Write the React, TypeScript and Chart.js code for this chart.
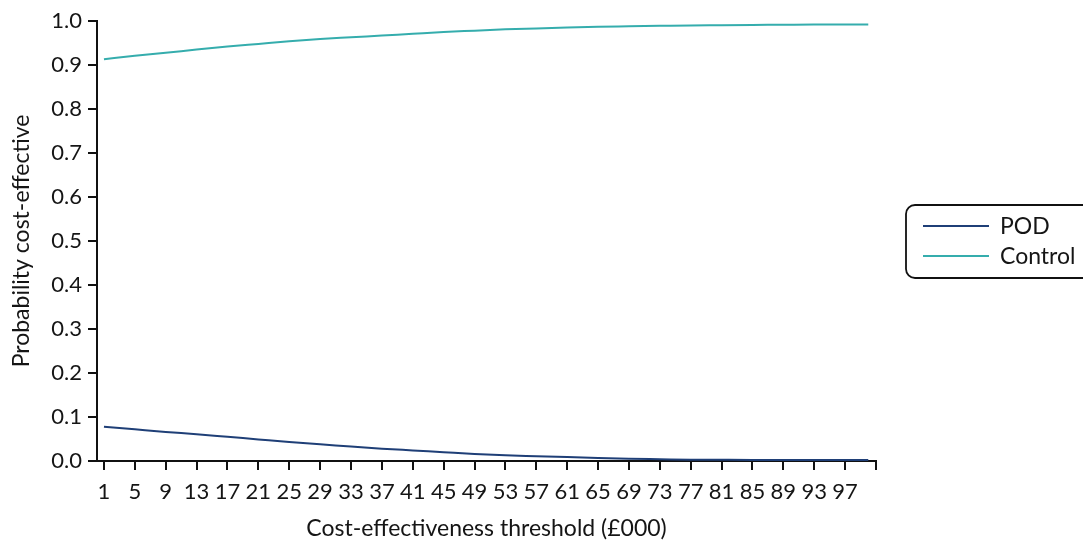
import React, { useEffect, useRef } from 'react';
import { Chart, registerables } from 'chart.js';

Chart.register(...registerables);

const thresholds = [1, 5, 9, 13, 17, 21, 25, 29, 33, 37, 41, 45, 49, 53, 57, 61, 65, 69, 73, 77, 81, 85, 89, 93, 97, 100];
const podValues = [0.078, 0.072, 0.066, 0.061, 0.055, 0.049, 0.043, 0.038, 0.033, 0.028, 0.024, 0.020, 0.016, 0.013, 0.011, 0.009, 0.007, 0.005, 0.004, 0.003, 0.0027, 0.0025, 0.0025, 0.0025, 0.0025, 0.0025];
const controlValues = [0.913, 0.921, 0.928, 0.935, 0.942, 0.948, 0.954, 0.959, 0.963, 0.967, 0.971, 0.975, 0.978, 0.981, 0.983, 0.985, 0.987, 0.988, 0.989, 0.990, 0.9905, 0.991, 0.9915, 0.992, 0.992, 0.992];
const xTickValues = [1, 5, 9, 13, 17, 21, 25, 29, 33, 37, 41, 45, 49, 53, 57, 61, 65, 69, 73, 77, 81, 85, 89, 93, 97, 101];
const xTickLabels = ['1', '5', '9', '13', '17', '21', '25', '29', '33', '37', '41', '45', '49', '53', '57', '61', '65', '69', '73', '77', '81', '85', '89', '93', '97', ''];
const seriesLabels = ['POD', 'Control'];
const seriesColors = ['#1f3f77', '#35adad'];
const xTitle = 'Cost-effectiveness threshold (£000)';
const yTitle = 'Probability cost-effective';

const FONT = 'Lato';
const TEXT = '#151515';

const boxLegend = {
  id: 'boxLegend',
  afterDraw(chart: any) {
    const ctx = chart.ctx as CanvasRenderingContext2D;
    const area = chart.chartArea;
    const cy = (area.top + area.bottom) / 2;
    const x = area.right + 30;
    const y = cy - 36;
    ctx.save();
    ctx.strokeStyle = '#111';
    ctx.lineWidth = 1.8;
    ctx.beginPath();
    (ctx as any).roundRect(x, y, 210, 73, 9);
    ctx.stroke();
    chart.data.datasets.forEach((ds: any, i: number) => {
      const ly = cy - 15 + i * 30;
      ctx.strokeStyle = ds.borderColor;
      ctx.lineWidth = 2;
      ctx.beginPath();
      ctx.moveTo(x + 17, ly);
      ctx.lineTo(x + 83, ly);
      ctx.stroke();
      ctx.fillStyle = TEXT;
      ctx.font = `23px ${FONT}`;
      ctx.textBaseline = 'middle';
      ctx.textAlign = 'left';
      ctx.fillText(ds.label, x + 94, ly + 1);
    });
    ctx.restore();
  },
};

export default function App() {
  const ref = useRef<HTMLCanvasElement | null>(null);

  useEffect(() => {
    document.body.style.margin = '0';
    if (!ref.current) return;
    const chart = new Chart(ref.current, {
      type: 'line',
      data: {
        datasets: [
          {
            label: seriesLabels[0],
            data: thresholds.map((t, i) => ({ x: t, y: podValues[i] })),
            borderColor: seriesColors[0],
            backgroundColor: seriesColors[0],
            borderWidth: 2,
            pointRadius: 0,
            cubicInterpolationMode: 'monotone',
          },
          {
            label: seriesLabels[1],
            data: thresholds.map((t, i) => ({ x: t, y: controlValues[i] })),
            borderColor: seriesColors[1],
            backgroundColor: seriesColors[1],
            borderWidth: 2,
            pointRadius: 0,
            cubicInterpolationMode: 'monotone',
          },
        ],
      },
      options: {
        animation: false,
        responsive: false,
        devicePixelRatio: 1,
        layout: { padding: { top: 21, right: 207, left: 0, bottom: 0 } },
        plugins: { legend: { display: false }, tooltip: { enabled: false } },
        scales: {
          x: {
            type: 'linear',
            min: 0.1,
            max: 101,
            afterBuildTicks: (scale: any) => {
              scale.ticks = xTickValues.map((v) => ({ value: v }));
            },
            afterFit: (scale: any) => {
              scale.height = 81;
            },
            grid: { display: true, drawOnChartArea: false, drawTicks: true, tickLength: 9, color: '#111', lineWidth: 2 },
            border: { display: true, color: '#111', width: 2 },
            ticks: {
              autoSkip: false,
              maxRotation: 0,
              padding: 9,
              color: TEXT,
              font: { family: FONT, size: 22 },
              callback: (v: any) => {
                const idx = xTickValues.indexOf(Number(v));
                return idx >= 0 ? xTickLabels[idx] : '';
              },
            },
            title: {
              display: true,
              text: xTitle,
              color: TEXT,
              font: { family: FONT, size: 23 },
              padding: { top: 0, bottom: 0 },
            },
          },
          y: {
            type: 'linear',
            min: 0,
            max: 1,
            afterFit: (scale: any) => {
              scale.width = 97;
            },
            grid: { display: true, drawOnChartArea: false, drawTicks: true, tickLength: 9, color: '#111', lineWidth: 2 },
            border: { display: true, color: '#111', width: 2 },
            ticks: {
              stepSize: 0.1,
              padding: 6,
              color: TEXT,
              font: { family: FONT, size: 22 },
              callback: (v: any) => Number(v).toFixed(1),
            },
            title: {
              display: true,
              text: yTitle,
              color: TEXT,
              font: { family: FONT, size: 23 },
              padding: { top: 8, bottom: 0 },
            },
          },
        },
      },
      plugins: [boxLegend],
    } as any);
    return () => chart.destroy();
  }, []);

  return (
    <div style={{ width: 1083, height: 542, position: 'relative' }}>
      <canvas ref={ref} width={1083} height={542} style={{ display: 'block' }} />
    </div>
  );
}
